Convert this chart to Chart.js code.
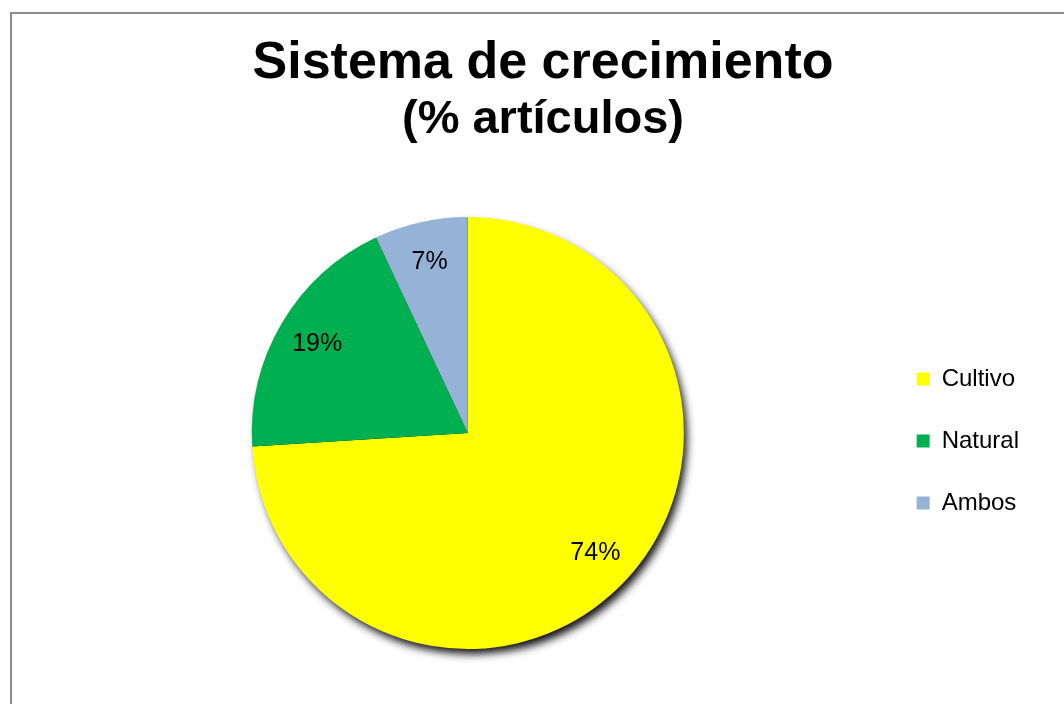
<!DOCTYPE html>
<html lang="es">
<head>
<meta charset="utf-8">
<title>Sistema de crecimiento</title>
<script src="https://cdn.jsdelivr.net/npm/chart.js@4/dist/chart.umd.min.js"></script>
<style>
  html, body { margin: 0; padding: 0; background: #fff; }
  body { width: 1064px; height: 704px; position: relative; overflow: hidden; }
  /* marco gris del área del gráfico (sigue más allá del borde derecho/inferior) */
  .marco {
    position: absolute; left: 10px; top: 12px; width: 1200px; height: 800px;
    border-left: 2px solid #8c8c8c; border-top: 2px solid #8c8c8c;
  }
  #grafico { position: absolute; left: 0; top: 0; }
</style>
</head>
<body>
<div class="marco"></div>
<canvas id="grafico" width="1064" height="704"></canvas>
<script>
const CATEGORIAS = ["Cultivo", "Natural", "Ambos"];
const PORCENTAJES = [74, 19, 7];
const COLORES = ["#ffff00", "#00b050", "#95b3d7"];
const TITULO = "Sistema de crecimiento";
const SUBTITULO = "(% artículos)";

const FUENTE = "'Liberation Sans', Arial, Helvetica, sans-serif";

// sombra negra bajo la torta, desplazada hacia abajo a la derecha
const sombraTorta = {
  id: "sombraTorta",
  beforeDatasetsDraw(chart) {
    const arco = chart.getDatasetMeta(0).data[0];
    if (!arco) return;
    const { x, y, outerRadius } = arco.getProps(["x", "y", "outerRadius"], true);
    const ctx = chart.ctx;
    ctx.save();
    ctx.shadowColor = "rgba(0, 0, 0, 0.95)";
    ctx.shadowBlur = 8;
    ctx.shadowOffsetX = 4;
    ctx.shadowOffsetY = 6;
    ctx.fillStyle = "#000";
    ctx.beginPath();
    ctx.arc(x, y, outerRadius - 1, 0, Math.PI * 2);
    ctx.fill();
    ctx.restore();
  },
};

// etiquetas de porcentaje dentro de cada porción
const etiquetasPct = {
  id: "etiquetasPct",
  afterDatasetsDraw(chart) {
    const ctx = chart.ctx;
    const valores = chart.data.datasets[0].data;
    ctx.save();
    ctx.font = `25px ${FUENTE}`;
    ctx.fillStyle = "#000";
    ctx.textAlign = "center";
    ctx.textBaseline = "middle";
    chart.getDatasetMeta(0).data.forEach((arco, i) => {
      const { x, y, startAngle, endAngle, outerRadius } =
        arco.getProps(["x", "y", "startAngle", "endAngle", "outerRadius"], true);
      const medio = (startAngle + endAngle) / 2;
      const r = outerRadius * 0.81;
      ctx.fillText(`${valores[i]}%`, x + Math.cos(medio) * r, y + Math.sin(medio) * r);
    });
    ctx.restore();
  },
};

new Chart(document.getElementById("grafico"), {
  type: "pie",
  data: {
    labels: CATEGORIAS,
    datasets: [{
      data: PORCENTAJES,
      backgroundColor: COLORES,
      borderWidth: 0,
      hoverOffset: 0,
    }],
  },
  options: {
    responsive: false,
    animation: false,
    layout: { padding: { top: 26, left: 57, right: 35, bottom: 55 } },
    plugins: {
      title: {
        display: true,
        text: TITULO,
        color: "#000",
        font: { family: FUENTE, size: 52, weight: "bold", lineHeight: 1 },
        padding: { top: 12, bottom: 3 },
      },
      subtitle: {
        display: true,
        text: SUBTITULO,
        color: "#000",
        font: { family: FUENTE, size: 47, weight: "bold", lineHeight: 1 },
        padding: { top: 4, bottom: 73 },
      },
      legend: {
        position: "right",
        // título vacío: sólo baja el bloque de la leyenda
        title: { display: true, text: "", font: { size: 10, lineHeight: 1 }, padding: { top: 197, bottom: 0 } },
        labels: {
          color: "#000",
          font: { family: FUENTE, size: 24 },
          boxWidth: 13,
          boxHeight: 13,
          padding: 38,
        },
      },
      tooltip: { enabled: false },
    },
  },
  plugins: [sombraTorta, etiquetasPct],
});
</script>
</body>
</html>
